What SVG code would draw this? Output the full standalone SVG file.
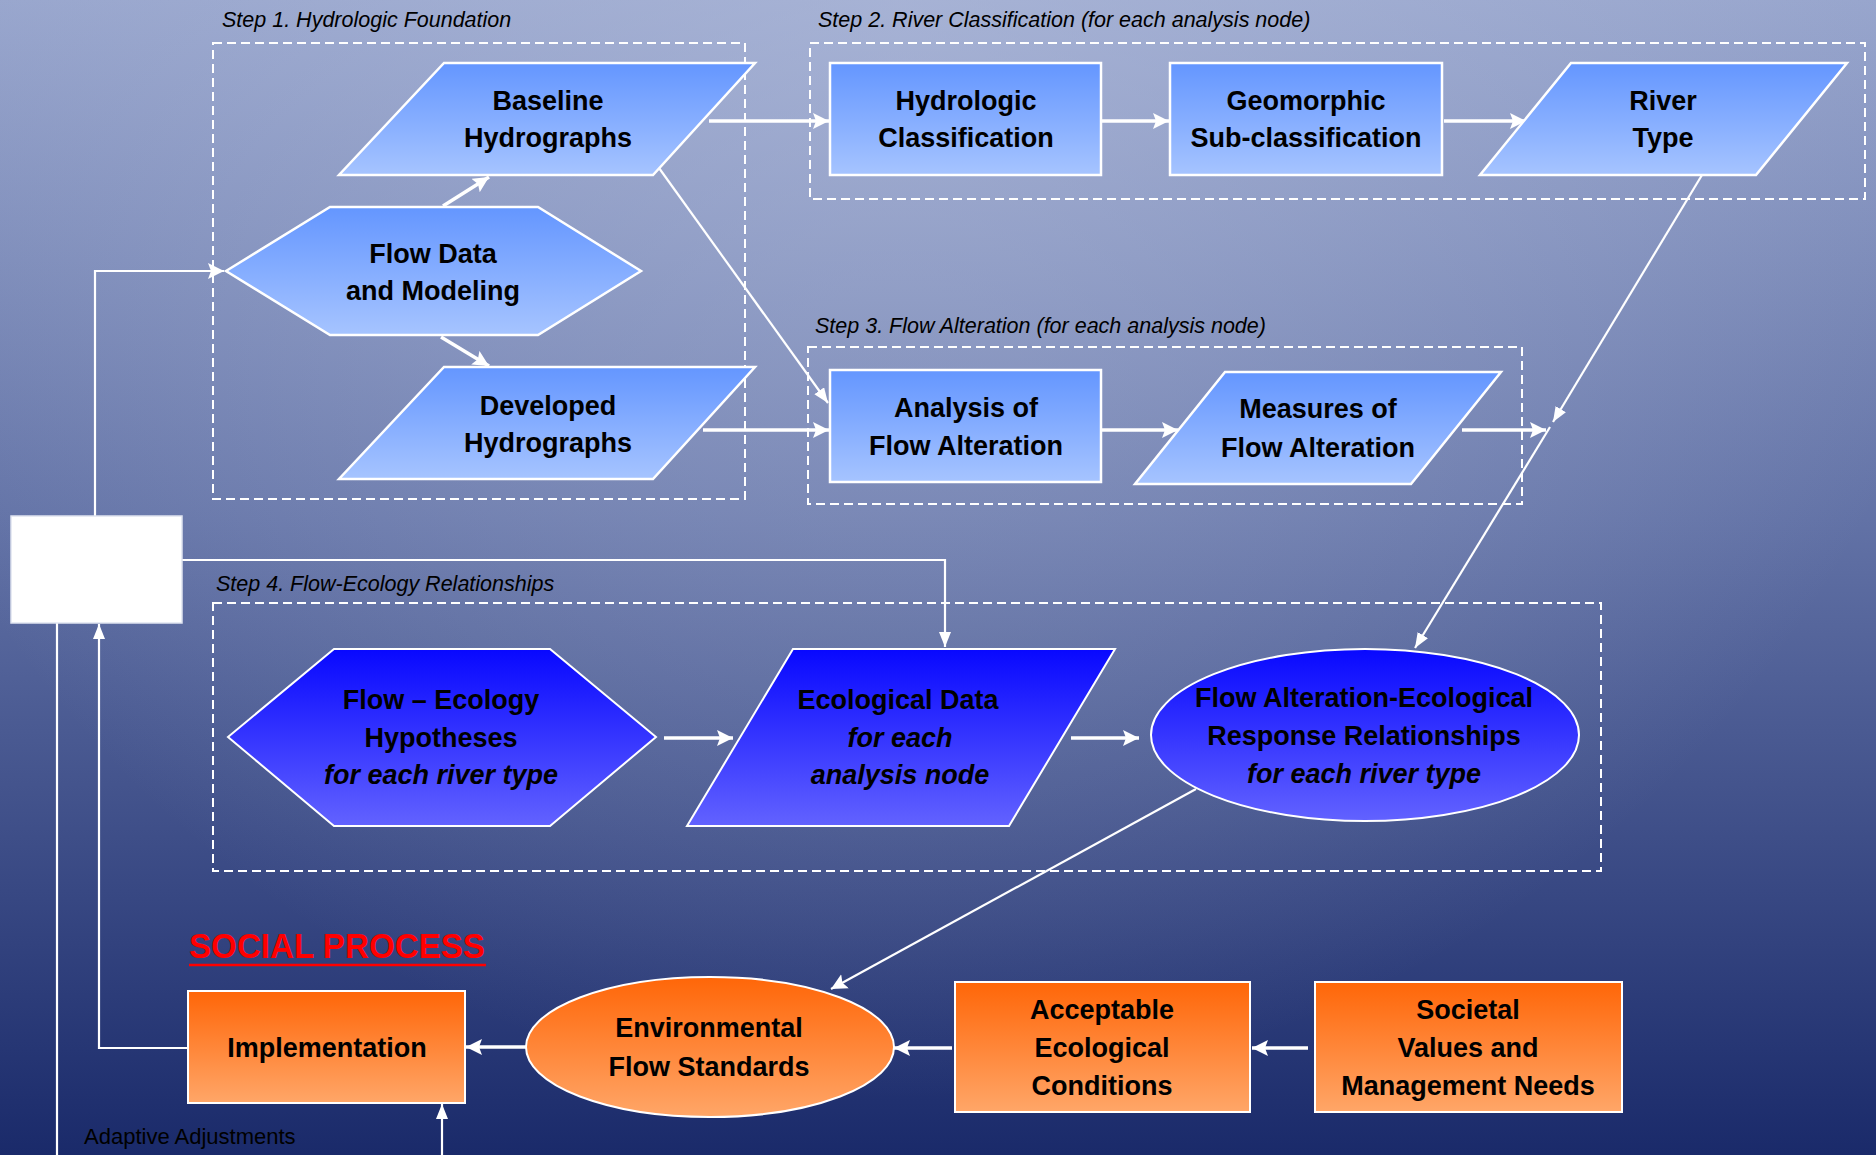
<svg xmlns="http://www.w3.org/2000/svg" width="1876" height="1155" viewBox="0 0 1876 1155">
<defs>
<linearGradient id="bg" x1="0" y1="0" x2="0" y2="1155" gradientUnits="userSpaceOnUse">
<stop offset="0" stop-color="#96a4cc"/>
<stop offset="0.45" stop-color="#6272a6"/>
<stop offset="1" stop-color="#1a2a6a"/>
</linearGradient>
<radialGradient id="glow" cx="900" cy="0" r="1100" gradientUnits="userSpaceOnUse">
<stop offset="0" stop-color="#b4bedc" stop-opacity="0.55"/>
<stop offset="1" stop-color="#b4bedc" stop-opacity="0"/>
</radialGradient>
<linearGradient id="lb" x1="0" y1="0" x2="0" y2="1">
<stop offset="0" stop-color="#6496ff"/>
<stop offset="1" stop-color="#a6c4ff"/>
</linearGradient>
<linearGradient id="db" x1="0" y1="0" x2="0" y2="1">
<stop offset="0" stop-color="#0808ff"/>
<stop offset="1" stop-color="#6262ff"/>
</linearGradient>
<linearGradient id="or" x1="0" y1="0" x2="0" y2="1">
<stop offset="0" stop-color="#ff6608"/>
<stop offset="1" stop-color="#ffa668"/>
</linearGradient>
<marker id="ah" markerUnits="userSpaceOnUse" markerWidth="18" markerHeight="18" refX="16" refY="8" orient="auto">
<path d="M0,0 L16,8 L0,16 L3,8 z" fill="#ffffff"/>
</marker>
<marker id="as" markerUnits="userSpaceOnUse" markerWidth="16" markerHeight="12" refX="15" refY="6" orient="auto">
<path d="M0,0 L15,6 L0,12 z" fill="#ffffff"/>
</marker>
<style>
.grp{fill:none;stroke:#ffffff;stroke-width:2;stroke-dasharray:9 5}
.lbl{font-family:"Liberation Sans",Arial,sans-serif;font-style:italic;font-size:21.5px;fill:#000000}
.nl{stroke:#ffffff;stroke-width:2.5}
.nd{stroke:#ffffff;stroke-width:2}
.t{font-family:"Liberation Sans",Arial,sans-serif;font-weight:bold;font-size:27px;fill:#000000;text-anchor:middle}
.ti{font-style:italic}
.c{fill:none;stroke:#ffffff;stroke-width:3.5}
.cs{fill:none;stroke:#ffffff;stroke-width:2.2}
</style>
</defs>
<rect x="0" y="0" width="1876" height="1155" fill="url(#bg)"/>
<rect x="0" y="0" width="1876" height="1155" fill="url(#glow)"/>

<g id="groups">
<rect class="grp" x="213" y="43" width="532" height="456"/>
<text class="lbl" x="222" y="27">Step 1. Hydrologic Foundation</text>
<rect class="grp" x="810" y="43" width="1055" height="156"/>
<text class="lbl" x="818" y="27">Step 2. River Classification (for each analysis node)</text>
<rect class="grp" x="808" y="347" width="714" height="157"/>
<text class="lbl" x="815" y="333">Step 3. Flow Alteration (for each analysis node)</text>
<rect class="grp" x="213" y="603" width="1388" height="268"/>
<text class="lbl" x="216" y="591">Step 4. Flow-Ecology Relationships</text>
</g>

<g id="connectors">
<polyline class="cs" points="95,516 95,271 224,271" marker-end="url(#ah)"/>
<polyline class="cs" points="182,560 945,560 945,647" marker-end="url(#as)"/>
<line class="cs" x1="57" y1="623" x2="57" y2="1155"/>
<polyline class="cs" points="187,1048 99,1048 99,624" marker-end="url(#as)"/>
<line class="cs" x1="442" y1="1155" x2="442" y2="1104" marker-end="url(#as)"/>
<line class="c" x1="443" y1="206" x2="489" y2="177" marker-end="url(#ah)"/>
<line class="c" x1="441" y1="337" x2="489" y2="366" marker-end="url(#ah)"/>
<line class="c" x1="709" y1="121" x2="829" y2="121" marker-end="url(#ah)"/>
<line class="c" x1="703" y1="430" x2="829" y2="430" marker-end="url(#ah)"/>
<line class="cs" x1="659" y1="168" x2="828" y2="403" marker-end="url(#as)"/>
<line class="c" x1="1102" y1="121" x2="1169" y2="121" marker-end="url(#ah)"/>
<line class="c" x1="1444" y1="121" x2="1526" y2="121" marker-end="url(#ah)"/>
<line class="c" x1="1102" y1="430" x2="1178" y2="430" marker-end="url(#ah)"/>
<line class="c" x1="1462" y1="430" x2="1546" y2="430" marker-end="url(#ah)"/>
<line class="cs" x1="1702" y1="175" x2="1553" y2="422" marker-end="url(#as)"/>
<line class="cs" x1="1550" y1="427" x2="1415" y2="648" marker-end="url(#as)"/>
<line class="c" x1="664" y1="738" x2="733" y2="738" marker-end="url(#ah)"/>
<line class="c" x1="1071" y1="738" x2="1139" y2="738" marker-end="url(#ah)"/>
<line class="cs" x1="1196" y1="789" x2="831" y2="989" marker-end="url(#ah)"/>
<line class="c" x1="526" y1="1047" x2="466" y2="1047" marker-end="url(#ah)"/>
<line class="c" x1="952" y1="1048" x2="894" y2="1048" marker-end="url(#ah)"/>
<line class="c" x1="1308" y1="1048" x2="1252" y2="1048" marker-end="url(#ah)"/>
</g>

<g id="blank-box">
<rect x="11" y="516" width="171" height="107" fill="#ffffff" stroke="#dfe4f0" stroke-width="1.5"/>
</g>

<g id="baseline-hydrographs">
<polygon class="nl" points="444,63 755,63 653,175 339,175" fill="url(#lb)"/>
<text class="t" x="548" y="110">Baseline</text>
<text class="t" x="548" y="147">Hydrographs</text>
</g>
<g id="flow-data">
<polygon class="nl" points="226,271 330,207 538,207 641,271 538,335 330,335" fill="url(#lb)"/>
<text class="t" x="433" y="263">Flow Data</text>
<text class="t" x="433" y="300">and Modeling</text>
</g>
<g id="developed-hydrographs">
<polygon class="nl" points="444,367 755,367 653,479 339,479" fill="url(#lb)"/>
<text class="t" x="548" y="415">Developed</text>
<text class="t" x="548" y="452">Hydrographs</text>
</g>
<g id="hydrologic-classification">
<rect class="nl" x="830" y="63" width="271" height="112" fill="url(#lb)"/>
<text class="t" x="966" y="110">Hydrologic</text>
<text class="t" x="966" y="147">Classification</text>
</g>
<g id="geomorphic">
<rect class="nl" x="1170" y="63" width="272" height="112" fill="url(#lb)"/>
<text class="t" x="1306" y="110">Geomorphic</text>
<text class="t" x="1306" y="147">Sub-classification</text>
</g>
<g id="river-type">
<polygon class="nl" points="1571,63 1847,63 1756,175 1480,175" fill="url(#lb)"/>
<text class="t" x="1663" y="110">River</text>
<text class="t" x="1663" y="147">Type</text>
</g>
<g id="analysis">
<rect class="nl" x="830" y="370" width="271" height="112" fill="url(#lb)"/>
<text class="t" x="966" y="417">Analysis of</text>
<text class="t" x="966" y="455">Flow Alteration</text>
</g>
<g id="measures">
<polygon class="nl" points="1225,372 1501,372 1411,484 1135,484" fill="url(#lb)"/>
<text class="t" x="1318" y="418">Measures of</text>
<text class="t" x="1318" y="457">Flow Alteration</text>
</g>
<g id="flow-ecology">
<polygon class="nd" points="228,737 334,649 550,649 656,737 550,826 334,826" fill="url(#db)"/>
<text class="t" x="441" y="709">Flow – Ecology</text>
<text class="t" x="441" y="747">Hypotheses</text>
<text class="t ti" x="441" y="784">for each river type</text>
</g>
<g id="ecological-data">
<polygon class="nd" points="793,649 1115,649 1009,826 687,826" fill="url(#db)"/>
<text class="t" x="898" y="709">Ecological Data</text>
<text class="t ti" x="900" y="747">for each</text>
<text class="t ti" x="900" y="784">analysis node</text>
</g>
<g id="flow-alteration-ecological">
<ellipse class="nd" cx="1365" cy="735" rx="214" ry="86" fill="url(#db)"/>
<text class="t" x="1364" y="707">Flow Alteration-Ecological</text>
<text class="t" x="1364" y="745">Response Relationships</text>
<text class="t ti" x="1364" y="783">for each river type</text>
</g>

<g id="social-process">
<text x="189" y="958" font-family="Liberation Sans, Arial, sans-serif" font-weight="bold" font-size="35" fill="#ff0000" textLength="296" lengthAdjust="spacingAndGlyphs">SOCIAL PROCESS</text>
<line x1="189" y1="965" x2="486" y2="965" stroke="#ff0000" stroke-width="2.5"/>
</g>
<g id="implementation">
<rect class="nd" x="188" y="991" width="277" height="112" fill="url(#or)"/>
<text class="t" x="327" y="1057">Implementation</text>
</g>
<g id="environmental-flow-standards">
<ellipse class="nd" cx="710" cy="1047" rx="184" ry="70" fill="url(#or)"/>
<text class="t" x="709" y="1037">Environmental</text>
<text class="t" x="709" y="1076">Flow Standards</text>
</g>
<g id="acceptable">
<rect class="nd" x="955" y="982" width="295" height="130" fill="url(#or)"/>
<text class="t" x="1102" y="1019">Acceptable</text>
<text class="t" x="1102" y="1057">Ecological</text>
<text class="t" x="1102" y="1095">Conditions</text>
</g>
<g id="societal">
<rect class="nd" x="1315" y="982" width="307" height="130" fill="url(#or)"/>
<text class="t" x="1468" y="1019">Societal</text>
<text class="t" x="1468" y="1057">Values and</text>
<text class="t" x="1468" y="1095">Management Needs</text>
</g>
<g id="adaptive-label">
<text x="84" y="1144" font-family="Liberation Sans, Arial, sans-serif" font-size="22" fill="#000000">Adaptive Adjustments</text>
</g>
</svg>
